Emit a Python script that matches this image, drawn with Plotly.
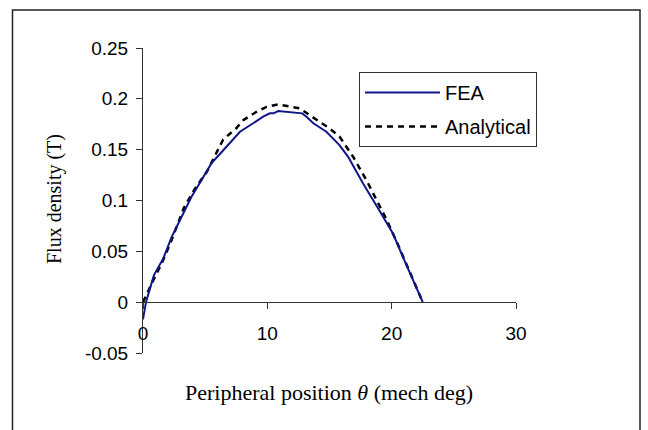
import plotly.graph_objects as go

# ---- data ----
fea_x = [0, 0.24, 0.88, 1.63, 2.3, 3.1, 3.9, 4.7, 5.5, 6.2, 6.8, 7.8, 8.86, 9.66,
         10.2, 10.5, 10.87, 11.54, 12.0, 12.35, 12.8, 13.15, 13.7, 14.75, 15.8,
         16.5, 17.7, 19.0, 20.1, 20.9, 21.7, 22.5]
fea_y = [-0.017, 0, 0.0266, 0.043, 0.064, 0.084, 0.1036, 0.12, 0.1365, 0.146,
         0.154, 0.1676, 0.176, 0.1824, 0.1857, 0.1857, 0.188, 0.1873, 0.1865,
         0.1857, 0.1857, 0.1824, 0.176, 0.1676, 0.1545, 0.143, 0.1168, 0.0905,
         0.0676, 0.0446, 0.0217, 0]

ana_x = [0, 0.43, 0.83, 1.5, 2.2, 3.3, 4.2, 5.17, 6.05, 6.45, 7.5, 8.06, 9.13,
         9.93, 10.87, 11.8, 12.6, 13.4, 14.2, 15.0, 15.8, 16.9, 17.97, 18.5,
         19.6, 20.6, 21.7, 22.5]
ana_y = [0, 0.012, 0.0217, 0.038, 0.058, 0.093, 0.112, 0.129, 0.150, 0.160,
         0.171, 0.179, 0.1873, 0.192, 0.1945, 0.192, 0.1906, 0.184, 0.1775,
         0.171, 0.163, 0.143, 0.12, 0.107, 0.081, 0.054, 0.0217, 0]

x_ticks = [0, 10, 20, 30]
y_ticks = [-0.05, 0, 0.05, 0.1, 0.15, 0.2, 0.25]
y_ticktext = ["-0.05", "0", "0.05", "0.1", "0.15", "0.2", "0.25"]

# ---- layout geometry ----
W, H = 648, 430
L, R, T, B = 143, 132, 48, 77
pw, ph = W - L - R, H - T - B

def px_x(p):
    return (p - L) / pw

def px_y(p):
    return (H - B - p) / ph

fig = go.Figure()
fig.add_trace(go.Scatter(x=ana_x, y=ana_y, mode="lines", name="Analytical",
                         legendgroup="b", legendrank=2,
                         line=dict(color="black", width=2.5, dash="6px,5px")))
fig.add_trace(go.Scatter(x=fea_x, y=fea_y, mode="lines", name="FEA",
                         legendgroup="a", legendrank=1,
                         line=dict(color="#10168a", width=2)))

tickfont = dict(family="Liberation Sans, Arial", size=19, color="black")
fig.update_layout(
    width=W, height=H,
    margin=dict(l=L, r=R, t=T, b=B, autoexpand=False),
    paper_bgcolor="white", plot_bgcolor="white",
    showlegend=True,
    legend=dict(x=px_x(359), y=px_y(72), xanchor="left", yanchor="top",
                bordercolor="#333", borderwidth=1, bgcolor="white",
                font=dict(family="Liberation Sans, Arial", size=20, color="black"),
                itemwidth=75, traceorder="grouped", tracegroupgap=5),
    xaxis=dict(range=[0, 30], tickvals=x_ticks, showgrid=False, zeroline=False,
               showline=True, linecolor="#333", linewidth=1,
               ticks="outside", ticklen=6, tickcolor="#333",
               anchor="free", position=(0 - (-0.05)) / 0.3,
               tickfont=tickfont, automargin=False, ticklabelstandoff=8),
    yaxis=dict(range=[-0.05, 0.25], tickvals=y_ticks, ticktext=y_ticktext,
               showgrid=False, zeroline=False, showline=True, linecolor="#333",
               linewidth=1, ticks="outside", ticklen=6, tickcolor="#333",
               tickfont=tickfont, automargin=False, ticklabelstandoff=4),
    annotations=[
        dict(text="Peripheral position <i>θ</i> (mech deg)", x=px_x(329),
             y=px_y(392), xref="paper", yref="paper", showarrow=False,
             xanchor="center", yanchor="middle",
             font=dict(family="Liberation Serif, Times New Roman", size=22,
                       color="black")),
        dict(text="Flux density (T)", x=px_x(55), y=px_y(199), xref="paper",
             yref="paper", showarrow=False, textangle=-90,
             xanchor="center", yanchor="middle",
             font=dict(family="Liberation Serif, Times New Roman", size=20,
                       color="black")),
    ],
    shapes=[
        dict(type="rect", xref="paper", yref="paper",
             x0=px_x(12.5), x1=px_x(640), y0=px_y(440), y1=px_y(10),
             line=dict(color="#222", width=1.5), layer="below"),
    ],
)

fig.write_html("out.html")
